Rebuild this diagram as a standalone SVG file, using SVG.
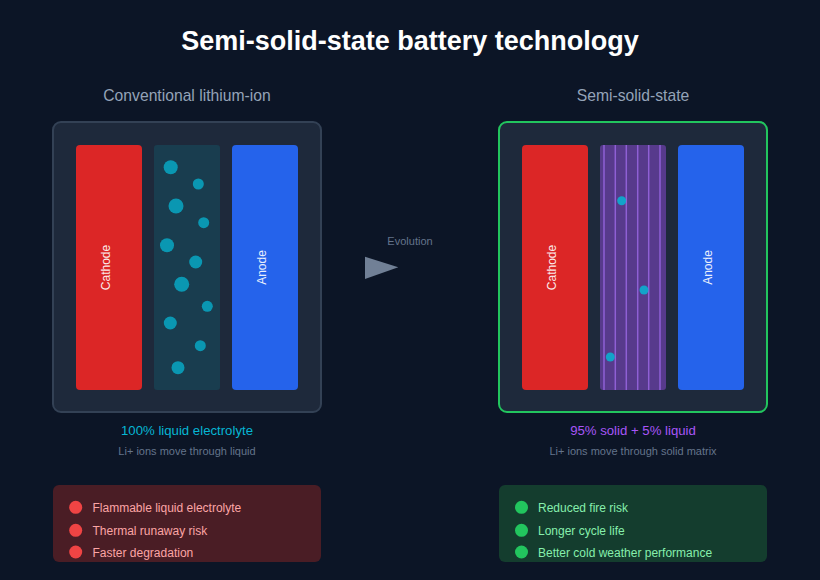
<svg xmlns="http://www.w3.org/2000/svg" width="820" height="580" viewBox="0 0 820 580">
<style>
text{font-family:"Liberation Sans",Arial,sans-serif}
.title{font-size:27px;font-weight:bold;fill:#ffffff}
.sub{font-size:15.7px;fill:#94a3b8}
.cell{fill:#1e293b;stroke:#334155;stroke-width:2}
.cath{fill:#dc2626}
.anod{fill:#2563eb}
.lbl{font-size:12px;fill:#ffffff;opacity:0.9}
.ion{fill:#06b6d4;opacity:0.75}
.stripe{stroke:#9d6ae8;stroke-width:1.5;opacity:0.8}
.note{font-size:11px;fill:#64748b}
.bul{font-size:12px}
</style>
<rect width="820" height="580" fill="#0c1526"/>
<text class="title" x="410" y="50" text-anchor="middle">Semi-solid-state battery technology</text>

<g id="conventional">
<text class="sub" x="187" y="101" text-anchor="middle">Conventional lithium-ion</text>
<rect class="cell" x="53" y="122" width="268" height="290" rx="8"/>
<rect class="cath" x="76" y="145" width="66" height="245" rx="4"/>
<text class="lbl" transform="translate(109,267.5) rotate(-90)" text-anchor="middle" dy="1">Cathode</text>
<rect x="154" y="145" width="66" height="245" rx="3" fill="#193d4f"/>
<g class="ion">
<circle cx="170.7" cy="167.3" r="7"/>
<circle cx="198.3" cy="184" r="5.5"/>
<circle cx="176" cy="206" r="7.5"/>
<circle cx="203.7" cy="222.7" r="5.5"/>
<circle cx="167" cy="245.3" r="7"/>
<circle cx="195.7" cy="262" r="6.5"/>
<circle cx="181.7" cy="284.3" r="7.5"/>
<circle cx="207.3" cy="306.3" r="5.5"/>
<circle cx="170.3" cy="323" r="6.5"/>
<circle cx="200.3" cy="345.7" r="5.5"/>
<circle cx="178" cy="367.7" r="6.5"/>
</g>
<rect class="anod" x="232" y="145" width="66" height="245" rx="4"/>
<text class="lbl" transform="translate(265,267.5) rotate(-90)" text-anchor="middle" dy="1">Anode</text>
<text x="187" y="435" text-anchor="middle" font-size="13.2" fill="#06b6d4">100% liquid electrolyte</text>
<text class="note" x="187" y="455" text-anchor="middle">Li+ ions move through liquid</text>
</g>

<g id="semisolid">
<text class="sub" x="633" y="101" text-anchor="middle">Semi-solid-state</text>
<rect x="499" y="122" width="268" height="290" rx="8" fill="#1e293b" stroke="#22c55e" stroke-width="2"/>
<rect class="cath" x="522" y="145" width="66" height="245" rx="4"/>
<text class="lbl" transform="translate(555,267.5) rotate(-90)" text-anchor="middle" dy="1">Cathode</text>
<rect x="600" y="145" width="66" height="245" rx="3" fill="#573a8c"/>
<g class="stripe">
<line x1="604" y1="145" x2="604" y2="390"/>
<line x1="615.3" y1="145" x2="615.3" y2="390"/>
<line x1="626.3" y1="145" x2="626.3" y2="390"/>
<line x1="637.7" y1="145" x2="637.7" y2="390"/>
<line x1="648.7" y1="145" x2="648.7" y2="390"/>
<line x1="660" y1="145" x2="660" y2="390"/>
</g>
<g fill="#06b6d4" opacity="0.85">
<circle cx="621.7" cy="200.7" r="4.5"/>
<circle cx="644" cy="290" r="4.5"/>
<circle cx="610.3" cy="357" r="4.5"/>
</g>
<rect class="anod" x="678" y="145" width="66" height="245" rx="4"/>
<text class="lbl" transform="translate(711,267.5) rotate(-90)" text-anchor="middle" dy="1">Anode</text>
<text x="633" y="435" text-anchor="middle" font-size="13.2" fill="#a855f7">95% solid + 5% liquid</text>
<text class="note" x="633" y="455" text-anchor="middle">Li+ ions move through solid matrix</text>
</g>

<g id="connectors">
<polygon points="365,256.7 398.3,267.3 365,279" fill="#718096"/>
<text x="410" y="245" text-anchor="middle" font-size="11" fill="#64748b">Evolution</text>
</g>

<g id="drawbacks">
<rect x="53" y="485" width="268" height="77" rx="6" fill="#4a1d25"/>
<g fill="#ef4444">
<circle cx="75.7" cy="507.3" r="6.5"/>
<circle cx="75.7" cy="530.3" r="6.5"/>
<circle cx="75.7" cy="552" r="6.5"/>
</g>
<g class="bul" fill="#fca5a5">
<text x="92.5" y="511.5">Flammable liquid electrolyte</text>
<text x="92.5" y="534.5">Thermal runaway risk</text>
<text x="92.5" y="556.5">Faster degradation</text>
</g>
</g>

<g id="benefits">
<rect x="499" y="485" width="268" height="77" rx="6" fill="#143d2e"/>
<g fill="#22c55e">
<circle cx="521.5" cy="507.3" r="6.5"/>
<circle cx="521.5" cy="530.3" r="6.5"/>
<circle cx="521.5" cy="552" r="6.5"/>
</g>
<g class="bul" fill="#86efac">
<text x="538" y="511.5">Reduced fire risk</text>
<text x="538" y="534.5">Longer cycle life</text>
<text x="538" y="556.5">Better cold weather performance</text>
</g>
</g>
</svg>
